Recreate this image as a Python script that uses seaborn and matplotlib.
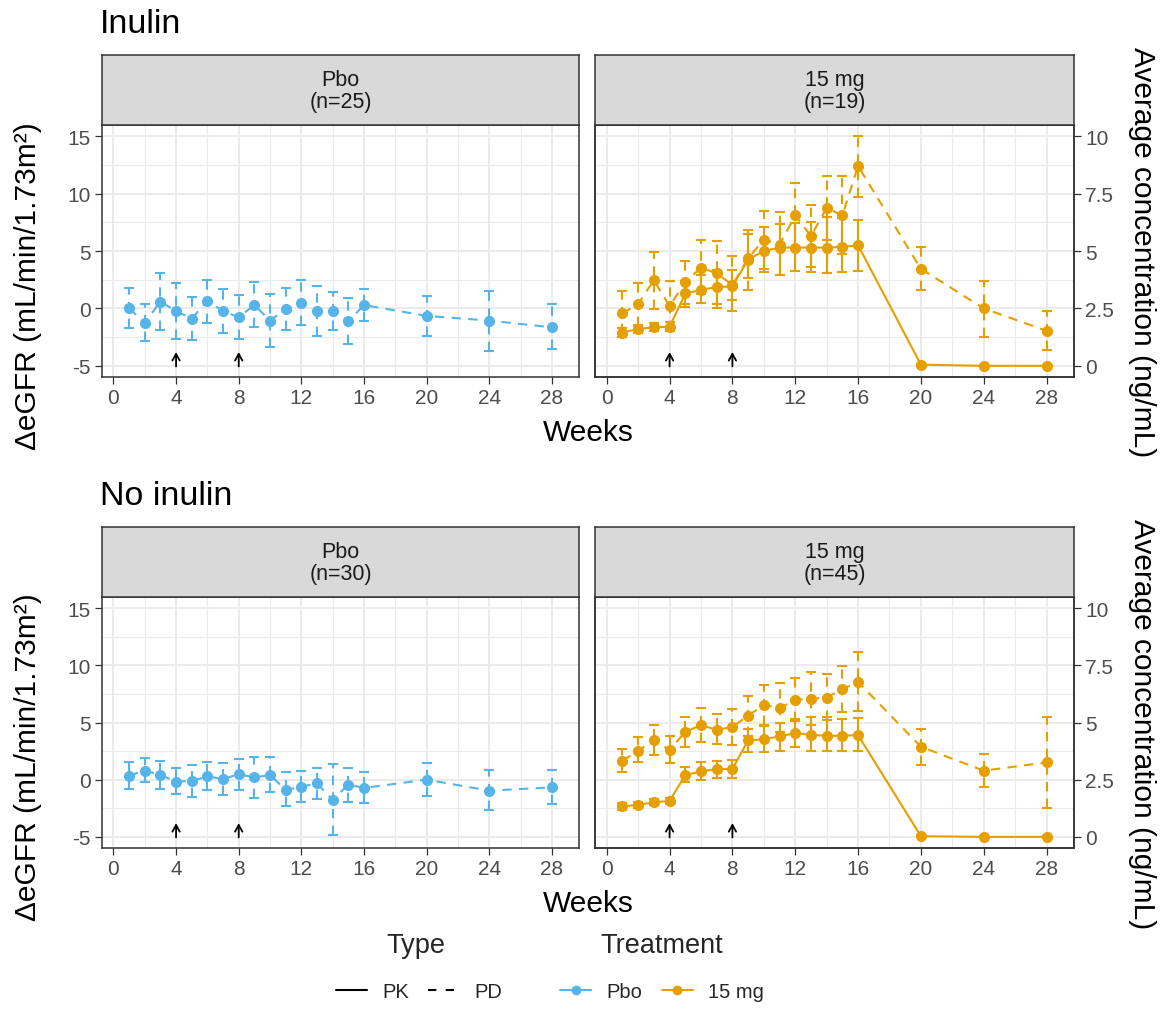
import numpy as np
import pandas as pd
import matplotlib
matplotlib.use("Agg")
import matplotlib.pyplot as plt
from matplotlib.lines import Line2D
import seaborn as sns

# ---- data -------------------------------------------------------------
weeks = [1, 2, 3, 4, 5, 6, 7, 8, 9, 10, 11, 12, 13, 14, 15, 16, 20, 24, 28]
dose_weeks = [4, 8]

# Inulin, placebo: PD (change in eGFR)
inu_pbo_pd = [0.0, -1.24, 0.59, -0.24, -0.88, 0.65, -0.24, -0.76, 0.29, -1.06,
              -0.06, 0.5, -0.24, -0.24, -1.12, 0.29, -0.65, -1.06, -1.65]
inu_pbo_pd_hi = [1.82, 0.35, 3.06, 2.2, 1.0, 2.47, 1.65, 1.18, 2.29, 1.24,
                 1.82, 2.44, 1.91, 1.41, 0.88, 1.71, 1.09, 1.53, 0.35]
inu_pbo_pd_lo = [-1.7, -2.8, -1.88, -2.65, -2.74, -1.26, -2.12, -2.65, -1.65, -3.38,
                 -1.91, -1.41, -2.41, -1.85, -3.12, -1.09, -2.44, -3.68, -3.53]

# Inulin, 15 mg: PD (change in eGFR)
inu_dose_pd = [-0.44, 0.4, 2.45, 0.2, 2.3, 3.55, 3.05, 2.05, 4.35, 6.0,
               5.55, 8.1, 6.3, 8.75, 8.1, 12.4, 3.45, 0.0, -1.95]
inu_dose_pd_hi = [1.55, 2.25, 4.9, 2.35, 4.15, 5.95, 5.9, 4.6, 6.8, 8.5,
                  8.4, 10.9, 9.0, 11.5, 11.5, 15.0, 5.35, 2.4, -0.25]
inu_dose_pd_lo = [-2.1, -1.5, -0.06, -1.9, 0.4, 1.25, 0.4, 0.7, 1.6, 3.4,
                  2.9, 5.3, 3.6, 6.0, 4.7, 9.7, 1.6, -2.45, -3.6]

# Inulin, 15 mg: PK (average concentration, ng/mL)
inu_dose_pk = [1.45, 1.6, 1.68, 1.7, 3.15, 3.31, 3.43, 3.46, 4.63, 5.0,
               5.15, 5.15, 5.15, 5.15, 5.18, 5.25, 0.05, 0.0, 0.0]
inu_dose_pk_hi = [1.65, 1.78, 1.88, 1.9, 3.7, 3.97, 4.19, 4.19, 5.75, 6.03,
                  6.18, 6.2, 6.25, 6.47, 6.45, 6.35, 0.08, 0.02, 0.02]
inu_dose_pk_lo = [1.25, 1.42, 1.5, 1.5, 2.57, 2.72, 2.53, 2.38, 3.83, 4.09,
                  3.97, 4.12, 4.1, 4.05, 4.1, 4.15, 0.02, 0.0, 0.0]

# No inulin, placebo: PD
non_pbo_pd = [0.35, 0.79, 0.41, -0.17, -0.11, 0.29, 0.06, 0.47, 0.2, 0.41,
              -0.9, -0.61, -0.32, -1.77, -0.43, -0.72, 0.0, -0.96, -0.67]
non_pbo_pd_hi = [1.57, 1.89, 1.63, 0.99, 1.28, 1.51, 1.46, 1.8, 2.0, 1.95,
                 0.64, 0.79, 1.02, 1.37, 1.02, 0.64, 1.46, 0.84, 0.84]
non_pbo_pd_lo = [-0.81, -0.23, -0.81, -1.25, -1.54, -0.9, -1.34, -0.87, -1.57, -1.1,
                 -2.32, -1.97, -1.68, -4.88, -1.92, -2.03, -1.45, -2.61, -2.12]

# No inulin, 15 mg: PD
non_dose_pd = [1.66, 2.53, 3.46, 2.59, 4.19, 4.77, 4.36, 4.62, 5.6, 6.55,
               6.25, 6.98, 7.09, 7.18, 7.93, 8.55, 2.88, 0.79, 1.51]
non_dose_pd_hi = [2.65, 3.7, 4.77, 3.84, 5.5, 6.25, 5.73, 6.16, 7.35, 8.3,
                  8.45, 8.85, 9.43, 9.2, 9.97, 11.16, 4.42, 2.24, 5.52]
non_dose_pd_lo = [0.7, 1.51, 2.15, 1.46, 2.9, 3.32, 3.11, 3.05, 3.85, 4.75,
                  4.2, 5.1, 4.75, 5.2, 5.93, 6.02, 1.31, -0.67, -2.47]

# No inulin, 15 mg: PK
non_dose_pk = [1.33, 1.4, 1.51, 1.57, 2.7, 2.86, 2.97, 2.97, 4.22, 4.27,
               4.39, 4.54, 4.46, 4.42, 4.42, 4.45, 0.03, 0.0, 0.0]
non_dose_pk_hi = [1.46, 1.53, 1.64, 1.7, 3.06, 3.26, 3.33, 3.37, 4.71, 4.85,
                  5.0, 5.15, 5.22, 5.22, 5.15, 5.18, 0.06, 0.02, 0.02]
non_dose_pk_lo = [1.18, 1.27, 1.38, 1.44, 2.38, 2.5, 2.57, 2.56, 3.7, 3.69,
                  3.77, 3.91, 3.77, 3.74, 3.74, 3.77, 0.0, 0.0, 0.0]

row_titles = ["Inulin", "No inulin"]
strip_labels = [["Pbo\n(n=25)", "15 mg\n(n=19)"], ["Pbo\n(n=30)", "15 mg\n(n=45)"]]
conc_ticks = [0, 2.5, 5, 7.5, 10]
conc_tick_labels = ["0", "2.5", "5", "7.5", "10"]
type_labels = ["PK", "PD"]
treatment_labels = ["Pbo", "15 mg"]

# ---- style ------------------------------------------------------------
sns.set_theme(style="ticks")
plt.rcParams["font.family"] = ["Liberation Sans", "DejaVu Sans"]
plt.rcParams["axes.unicode_minus"] = False

PBO_COLOR = "#56B4E9"
DOSE_COLOR = "#E69F00"
DASHED = (0, (4.5, 3.5))
LW = 1.5
EGFR_LIM = (-6.0, 15.95)
X_LIM = (-0.75, 29.75)
BORDER = "#333333"
TICK_TXT = "#4D4D4D"
AXIS_TITLE_SIZE = 21.5

W, H = 1167, 1012
fig = plt.figure(figsize=(W / 100, H / 100), dpi=100)


def fx(px):
    return px / W


def fy(py):
    return 1 - py / H


def egfr_to_conc(v):
    return (v + 5) / 2


def draw_series(ax, x, y, lo, hi, color, dashed):
    ls = DASHED if dashed else "-"
    df = pd.DataFrame({"week": x, "value": y})
    sns.lineplot(data=df, x="week", y="value", ax=ax, color=color, linewidth=LW,
                 linestyle=ls, marker="o", markersize=8, markeredgewidth=0,
                 legend=False, errorbar=None, zorder=3)
    yv = np.asarray(y, dtype=float)
    err = [yv - np.asarray(lo, dtype=float), np.asarray(hi, dtype=float) - yv]
    eb = ax.errorbar(x, yv, yerr=err, fmt="none", ecolor=color, elinewidth=LW,
                     capsize=3.6, capthick=LW, zorder=2)
    if dashed:
        eb[2][0].set_linestyle(DASHED)
    ax.set_xlabel("")
    ax.set_ylabel("")


def style_panel(ax, show_left):
    ax.set_xlim(*X_LIM)
    ax.set_ylim(*EGFR_LIM)
    ax.set_xticks(range(0, 29, 4))
    ax.set_xticks(range(2, 29, 4), minor=True)
    ax.set_yticks([-5, 0, 5, 10, 15])
    ax.set_yticks([-2.5, 2.5, 7.5, 12.5], minor=True)
    ax.grid(which="major", color="#EBEBEB", lw=1.4)
    ax.grid(which="minor", color="#EBEBEB", lw=0.8)
    ax.set_axisbelow(True)
    for s in ax.spines.values():
        s.set_color(BORDER)
        s.set_linewidth(1.1)
        s.set_visible(True)
    ax.tick_params(which="major", direction="out", length=5, width=0.9,
                   color=BORDER, labelsize=15, labelcolor=TICK_TXT, pad=3,
                   bottom=True, left=show_left, labelleft=show_left,
                   right=False, top=False)
    ax.tick_params(which="minor", length=0)


def add_strip(ax_pos, label):
    l, b, w, h = ax_pos
    sax = fig.add_axes([l, b + h, w, fy(56) - fy(126)])
    sax.set_facecolor("#D9D9D9")
    sax.set_xticks([])
    sax.set_yticks([])
    for s in sax.spines.values():
        s.set_color(BORDER)
        s.set_linewidth(1.1)
    sax.text(0.5, 0.5, label, ha="center", va="center", fontsize=15.5,
             color="#1A1A1A", linespacing=1.05, transform=sax.transAxes)


rows = [
    dict(top=126.3, bottom=378.3,
         pbo=(inu_pbo_pd, inu_pbo_pd_lo, inu_pbo_pd_hi),
         pd=(inu_dose_pd, inu_dose_pd_lo, inu_dose_pd_hi),
         pk=(inu_dose_pk, inu_dose_pk_lo, inu_dose_pk_hi)),
    dict(top=598.3, bottom=849.3,
         pbo=(non_pbo_pd, non_pbo_pd_lo, non_pbo_pd_hi),
         pd=(non_dose_pd, non_dose_pd_lo, non_dose_pd_hi),
         pk=(non_dose_pk, non_dose_pk_lo, non_dose_pk_hi)),
]
col_px = [(101.7, 579.3), (595.0, 1074.0)]

for r, row in enumerate(rows):
    b = fy(row["bottom"])
    h = fy(row["top"]) - b
    for c in range(2):
        l = fx(col_px[c][0])
        w = fx(col_px[c][1]) - l
        ax = fig.add_axes([l, b, w, h])
        style_panel(ax, show_left=(c == 0))
        if c == 0:
            y, lo, hi = row["pbo"]
            draw_series(ax, weeks, y, lo, hi, PBO_COLOR, dashed=True)
        else:
            y, lo, hi = row["pd"]
            draw_series(ax, weeks, y, lo, hi, DOSE_COLOR, dashed=True)
            tw = ax.twinx()
            yk, lok, hik = row["pk"]
            draw_series(tw, weeks, yk, lok, hik, DOSE_COLOR, dashed=False)
            tw.set_ylim(egfr_to_conc(EGFR_LIM[0]), egfr_to_conc(EGFR_LIM[1]))
            tw.set_xlim(*X_LIM)
            tw.set_yticks(conc_ticks)
            tw.set_yticklabels(conc_tick_labels)
            tw.grid(False)
            for s in tw.spines.values():
                s.set_color(BORDER)
                s.set_linewidth(1.1)
            tw.tick_params(axis="y", direction="out", length=5, width=0.9,
                           color=BORDER, labelsize=15, labelcolor=TICK_TXT,
                           pad=3, right=True, left=False, labelleft=False)
            # twinx re-enables left ticks on the host axes; switch them off
            ax.tick_params(axis="y", which="both", left=False, labelleft=False,
                           right=False, labelright=False)
        ax.set_xlim(*X_LIM)
        ax.set_ylim(*EGFR_LIM)
        for dw in dose_weeks:
            ax.annotate("", xy=(dw, -3.8), xytext=(dw, -5.05),
                        arrowprops=dict(arrowstyle="->,head_length=0.4,head_width=0.22",
                                        color="black", lw=1.3, shrinkA=0, shrinkB=0),
                        zorder=5)
        add_strip([l, b, w, h], strip_labels[r][c])

    weeks_base = row["bottom"] + 63
    fig.text(fx(100), fy(row["top"] - 93), row_titles[r], fontsize=24.5,
             ha="left", va="baseline", color="black")
    fig.text(fx(588), fy(weeks_base), "Weeks", fontsize=AXIS_TITLE_SIZE,
             ha="center", va="baseline", color="black")
    left_center = (row["top"] + weeks_base + 4) / 2
    fig.text(fx(28), fy(left_center), "\u0394eGFR (mL/min/1.73m\u00b2)",
             fontsize=AXIS_TITLE_SIZE, rotation=90, ha="center", va="center",
             color="black")
    fig.text(fx(1142), fy((row["top"] + row["bottom"]) / 2),
             "Average concentration (ng/mL)", fontsize=AXIS_TITLE_SIZE,
             rotation=270, ha="center", va="center", color="black")

# ---- legends ----------------------------------------------------------
type_handles = [Line2D([], [], color="black", lw=LW, ls="-"),
                Line2D([], [], color="black", lw=LW, ls=(0, (4, 4.5)))]
treat_handles = [Line2D([], [], color=PBO_COLOR, lw=LW, marker="o", ms=7, mew=0),
                 Line2D([], [], color=DOSE_COLOR, lw=LW, marker="o", ms=7, mew=0)]
leg_kw = dict(loc="center", ncol=2, frameon=False, fontsize=14.5,
              handlelength=1.55, handletextpad=0.75, columnspacing=0.95,
              borderpad=0.1)
fig.legend(type_handles, type_labels, bbox_to_anchor=(fx(419), fy(993)), **leg_kw)
fig.legend(treat_handles, treatment_labels, bbox_to_anchor=(fx(662), fy(993)), **leg_kw)
fig.text(fx(416), fy(946), "Type", fontsize=19.5, ha="center", va="center")
fig.text(fx(662), fy(946), "Treatment", fontsize=19.5, ha="center", va="center")

fig.savefig("out.png", dpi=100)
